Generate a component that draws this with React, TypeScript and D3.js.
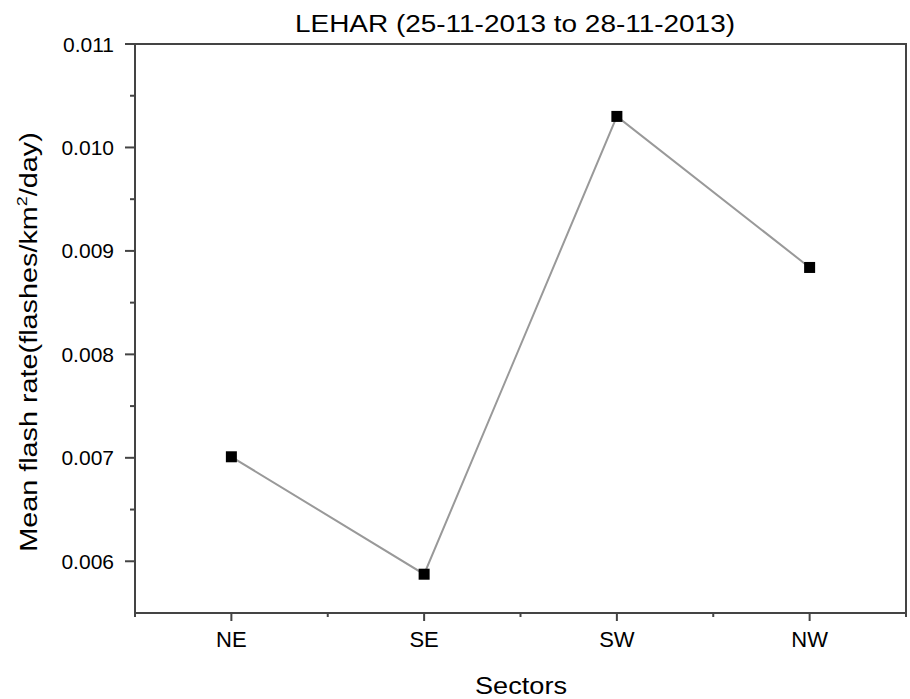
import React, { useEffect, useRef } from "react";
import * as d3 from "d3";

const sectors = ["NE", "SE", "SW", "NW"];
const flashRate = [0.00701, 0.005875, 0.0103, 0.00884];
const yTicks = [0.006, 0.007, 0.008, 0.009, 0.01, 0.011];

export default function App() {
  const ref = useRef<SVGSVGElement>(null);

  useEffect(() => {
    drawChart();
  }, []);

  function drawChart() {
    const svg = d3.select(ref.current);
    svg.selectAll("*").remove();

    const left = 135, right = 906, top = 44, bottom = 613;
    const font = "'Liberation Sans', Arial, sans-serif";
    const axisColor = "#444";

    const x = d3.scaleLinear().domain([0.5, sectors.length + 0.5]).range([left, right]);
    const y = d3.scaleLinear().domain([0.0055, 0.011]).range([bottom, top]);

    // frame
    svg.append("rect")
      .attr("x", left).attr("y", top)
      .attr("width", right - left).attr("height", bottom - top)
      .attr("fill", "none").attr("stroke", axisColor).attr("stroke-width", 2);

    // x ticks
    const g = svg.append("g");
    sectors.forEach((s, i) => {
      g.append("line")
        .attr("x1", x(i + 1)).attr("x2", x(i + 1))
        .attr("y1", bottom).attr("y2", bottom + 8)
        .attr("stroke", axisColor).attr("stroke-width", 2);
      g.append("text")
        .attr("x", x(i + 1)).attr("y", bottom + 34)
        .attr("text-anchor", "middle")
        .style("font-family", font).style("font-size", "22px")
        .text(s);
    });
    d3.range(0.5, sectors.length + 1, 1).forEach((v) => {
      g.append("line")
        .attr("x1", x(v)).attr("x2", x(v))
        .attr("y1", bottom).attr("y2", bottom + 4)
        .attr("stroke", axisColor).attr("stroke-width", 2);
    });

    // y ticks
    yTicks.forEach((t) => {
      g.append("line")
        .attr("x1", left - 10).attr("x2", left)
        .attr("y1", y(t)).attr("y2", y(t))
        .attr("stroke", axisColor).attr("stroke-width", 2);
      g.append("text")
        .attr("x", left - 21).attr("y", y(t) + 7.5)
        .attr("text-anchor", "end")
        .style("font-family", font).style("font-size", "21px")
        .text(d3.format(".3f")(t));
    });
    yTicks.slice(0, -1).forEach((t) => {
      g.append("line")
        .attr("x1", left - 5).attr("x2", left)
        .attr("y1", y(t + 0.0005)).attr("y2", y(t + 0.0005))
        .attr("stroke", axisColor).attr("stroke-width", 2);
    });

    // line + markers
    const line = d3.line<number>()
      .x((d, i) => x(i + 1))
      .y((d) => y(d));
    svg.append("path")
      .attr("d", line(flashRate))
      .attr("fill", "none").attr("stroke", "#999").attr("stroke-width", 2);
    svg.selectAll(".pt")
      .data(flashRate)
      .enter()
      .append("rect")
      .attr("class", "pt")
      .attr("x", (d, i) => x(i + 1) - 5.5)
      .attr("y", (d) => y(d) - 5.5)
      .attr("width", 11).attr("height", 11)
      .attr("fill", "#000");

    // title and labels
    svg.append("text")
      .attr("x", 515).attr("y", 32)
      .attr("text-anchor", "middle")
      .attr("textLength", 440).attr("lengthAdjust", "spacingAndGlyphs")
      .style("font-family", font).style("font-size", "23px")
      .text("LEHAR (25-11-2013 to 28-11-2013)");

    svg.append("text")
      .attr("x", 521).attr("y", 694)
      .attr("text-anchor", "middle")
      .attr("textLength", 92).attr("lengthAdjust", "spacingAndGlyphs")
      .style("font-family", font).style("font-size", "24px")
      .text("Sectors");

    const yl = svg.append("text")
      .attr("transform", "translate(37,342) rotate(-90) scale(1.2,1)")
      .attr("text-anchor", "middle")
      .style("font-family", font).style("font-size", "24px");
    yl.append("tspan").text("Mean flash rate(flashes/km");
    yl.append("tspan").attr("dy", -10).style("font-size", "15px").text("2");
    yl.append("tspan").attr("dy", 10).text("/day)");
  }

  return (
    <svg
      ref={ref}
      width={910}
      height={699}
      style={{ position: "absolute", left: 0, top: 0, background: "#fff" }}
    />
  );
}
